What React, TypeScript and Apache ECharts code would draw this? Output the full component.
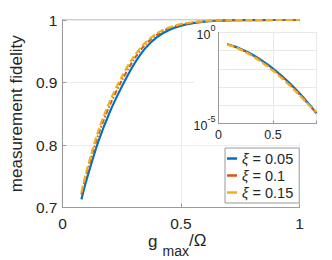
import React, { useEffect, useRef } from "react";
import * as echarts from "echarts";

// Main plot: measurement fidelity vs g_max/Ω
const mainX = [0.08, 0.1, 0.15, 0.2, 0.25, 0.3, 0.35, 0.4, 0.45, 0.5, 0.55, 0.6, 0.65, 0.7, 0.8, 0.9, 1.0];
const fidelityXi005 = [0.713, 0.742, 0.804, 0.853, 0.893, 0.928, 0.955, 0.973, 0.984, 0.991, 0.995, 0.9975, 0.9988, 0.9994, 0.9998, 0.99996, 0.99999];
const fidelityXi01 = [0.721, 0.751, 0.815, 0.864, 0.903, 0.936, 0.961, 0.977, 0.987, 0.9925, 0.996, 0.998, 0.9991, 0.9995, 0.9998, 0.99996, 0.99999];
const fidelityXi015 = [0.724, 0.756, 0.821, 0.87, 0.909, 0.941, 0.964, 0.979, 0.988, 0.9935, 0.9965, 0.9982, 0.9992, 0.9996, 0.9998, 0.99996, 0.99999];

// Inset: infidelity (log scale)
const insetX = [0.08, 0.1, 0.15, 0.2, 0.25, 0.3, 0.35, 0.4, 0.45, 0.5, 0.55, 0.6, 0.65, 0.7, 0.75, 0.8, 0.85, 0.9];
const infidXi005 = [0.229, 0.211, 0.168, 0.128, 0.0935, 0.0656, 0.0442, 0.0284, 0.0176, 0.0105, 0.00597, 0.00327, 0.00171, 0.00086, 0.000416, 0.000192, 0.0000855, 0.0000363];
const infidXi01 = [0.226, 0.206, 0.162, 0.122, 0.088, 0.061, 0.04, 0.0254, 0.0155, 0.0092, 0.0052, 0.00285, 0.00149, 0.00075, 0.00037, 0.000172, 0.00008, 0.000038];
const infidXi015 = [0.224, 0.203, 0.158, 0.117, 0.083, 0.056, 0.036, 0.0225, 0.0136, 0.008, 0.0045, 0.00246, 0.00129, 0.00066, 0.00033, 0.000158, 0.000078, 0.000043];

const seriesNames = ["ξ = 0.05", "ξ = 0.1", "ξ = 0.15"];
const colors = ["#0072BD", "#D95319", "#EDB120"];

const FONT = "'Liberation Sans', Arial, Helvetica, sans-serif";
const TXT = "#262626";

const zip = (xs: number[], ys: number[]) => xs.map((x, i) => [x, ys[i]]);

export default function App() {
  const ref = useRef<HTMLDivElement>(null);
  useEffect(() => {
    if (!ref.current) return;
    const chart = echarts.init(ref.current, null, { renderer: "svg" });
    const lineStyles: any[] = [
      { width: 2.2, type: "solid" },
      { width: 2, type: [5, 2, 1.5, 2] },
      { width: 2.2, type: [7, 3] },
    ];
    const mainData = [fidelityXi005, fidelityXi01, fidelityXi015];
    const insetData = [infidXi005, infidXi01, infidXi015];
    const supLabel = (v: number) => {
      const e = Math.round(Math.log10(v));
      if (e === 0 || e === -5) return `{b|10}{s|${e}}`;
      return "";
    };
    chart.setOption({
      animation: false,
      textStyle: { fontFamily: FONT },
      grid: [
        {
          left: 57.5,
          top: 20,
          width: 242,
          height: 187.5,
          show: true,
          borderColor: "#9a9a9a",
          borderWidth: 1,
          z: 0,
        },
        {
          left: 218.5,
          top: 32.5,
          width: 98,
          height: 91,
          show: true,
          backgroundColor: "#ffffff",
          borderColor: "#9a9a9a",
          borderWidth: 1,
          z: 2,
        },
      ],
      xAxis: [
        {
          gridIndex: 0,
          type: "value",
          min: 0,
          max: 1,
          interval: 0.5,
          axisLine: { lineStyle: { color: "#9a9a9a" } },
          axisTick: { inside: true, length: 4, lineStyle: { color: "#9a9a9a" } },
          axisLabel: {
            fontSize: 15.5,
            color: TXT,
            margin: 8,
            fontFamily: FONT,
            formatter: (v: number) => (v === 0 ? "0" : v === 1 ? "1" : String(v)),
          },
          splitLine: { show: true, lineStyle: { color: "#ececec", width: 1 } },
        },
        {
          gridIndex: 1,
          type: "value",
          min: 0,
          max: 0.9,
          interval: 0.5,
          z: 10,
          axisLine: { lineStyle: { color: "#9a9a9a" } },
          axisTick: { inside: true, length: 3, lineStyle: { color: "#9a9a9a" } },
          axisLabel: {
            show: true,
            showMinLabel: true,
            fontSize: 12.5,
            color: TXT,
            margin: 5,
            fontFamily: FONT,
            formatter: (v: any) => {
              const n = Number(v);
              if (Math.abs(n) < 1e-9) return "0";
              if (Math.abs(n - 0.5) < 1e-9) return "0.5";
              return "";
            },
          },
          splitLine: { show: true, lineStyle: { color: "#e8e8e8", width: 1 } },
        },
      ],
      yAxis: [
        {
          gridIndex: 0,
          type: "value",
          min: 0.7,
          max: 1,
          interval: 0.1,
          name: "measurement fidelity",
          nameLocation: "middle",
          nameGap: 31,
          nameTextStyle: { fontSize: 17, color: TXT, fontFamily: FONT },
          axisLine: { lineStyle: { color: "#9a9a9a" } },
          axisTick: { inside: true, length: 4, lineStyle: { color: "#9a9a9a" } },
          axisLabel: {
            fontSize: 15.5,
            color: TXT,
            margin: 5,
            fontFamily: FONT,
            formatter: (v: number) => (Math.abs(v - 1) < 1e-9 ? "1" : v.toFixed(1)),
          },
          splitLine: { show: true, lineStyle: { color: "#ececec", width: 1 } },
        },
        {
          gridIndex: 1,
          type: "log",
          logBase: 10,
          min: 1e-5,
          max: 1,
          splitNumber: 5,
          z: 10,
          axisLine: { lineStyle: { color: "#9a9a9a" } },
          axisTick: { show: false },
          axisLabel: {
            color: TXT,
            margin: 3,
            fontFamily: FONT,
            formatter: supLabel,
            rich: {
              b: { fontSize: 12.5, color: TXT, fontFamily: FONT, lineHeight: 18, verticalAlign: "bottom" },
              s: { fontSize: 9, color: TXT, fontFamily: FONT, lineHeight: 10, verticalAlign: "top" },
            },
          },
          splitLine: { show: true, lineStyle: { color: "#e8e8e8", width: 1 } },
        },
      ],
      legend: {
        orient: "vertical",
        left: 225,
        top: 148,
        padding: [3, 6, 3, 2],
        itemGap: 2,
        itemWidth: 10,
        itemHeight: 2.5,
        icon: "rect",
        backgroundColor: "#ffffff",
        borderColor: "#9a9a9a",
        borderWidth: 1,
        borderRadius: 0,
        data: seriesNames,
        formatter: (name: string) => `{i|ξ}{n|${name.slice(1)}}`,
        textStyle: {
          fontFamily: FONT,
          color: TXT,
          fontSize: 14.5,
          lineHeight: 15,
          rich: {
            i: { fontStyle: "italic", fontSize: 14.5, color: TXT, fontFamily: FONT, lineHeight: 15 },
            n: { fontSize: 14.5, color: TXT, fontFamily: FONT, lineHeight: 15 },
          },
        },
      },
      graphic: [
        {
          type: "rect",
          z: 1,
          silent: true,
          shape: { x: 194, y: 25, width: 126, height: 117 },
          style: { fill: "#ffffff" },
        },
        {
          type: "text",
          z: 5,
          left: 148,
          top: 233,
          style: { text: "g", fontSize: 17, fill: TXT, fontFamily: FONT },
        },
        {
          type: "text",
          z: 5,
          left: 162.5,
          top: 244,
          style: { text: "max", fontSize: 14, fill: TXT, fontFamily: FONT },
        },
        {
          type: "text",
          z: 5,
          left: 189,
          top: 232,
          style: { text: "/Ω", fontSize: 17, fill: TXT, fontFamily: FONT },
        },
      ],
      series: [
        ...mainData.map((d, i) => ({
          name: seriesNames[i],
          type: "line",
          xAxisIndex: 0,
          yAxisIndex: 0,
          data: zip(mainX, d),
          smooth: 0.3,
          symbol: "none",
          z: 3 + i,
          color: colors[i],
          lineStyle: { color: colors[i], ...lineStyles[i] },
        })),
        ...insetData.map((d, i) => ({
          name: seriesNames[i],
          type: "line",
          xAxisIndex: 1,
          yAxisIndex: 1,
          data: zip(insetX, d),
          smooth: 0.3,
          symbol: "none",
          z: 11 + i,
          color: colors[i],
          lineStyle: { color: colors[i], ...lineStyles[i] },
        })),
      ],
    });
    return () => chart.dispose();
  }, []);
  return (
    <div
      ref={ref}
      style={{ position: "fixed", left: 0, top: 0, width: 332, height: 260, background: "#ffffff" }}
    />
  );
}
